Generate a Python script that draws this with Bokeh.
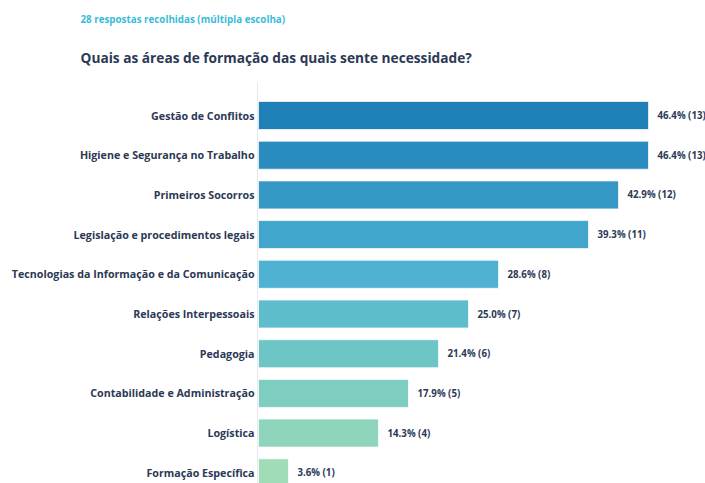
from bokeh.plotting import figure
from bokeh.models import Range1d, ColumnDataSource
from bokeh.embed import file_html
from bokeh.resources import INLINE
from bokeh.core.properties import value

categories = [
    "Gestão de Conflitos",
    "Higiene e Segurança no Trabalho",
    "Primeiros Socorros",
    "Legislação e procedimentos legais",
    "Tecnologias da Informação e da Comunicação",
    "Relações Interpessoais",
    "Pedagogia",
    "Contabilidade e Administração",
    "Logística",
    "Formação Específica",
]
counts = [13, 13, 12, 11, 8, 7, 6, 5, 4, 1]
percents = [46.4, 46.4, 42.9, 39.3, 28.6, 25.0, 21.4, 17.9, 14.3, 3.6]
colors = ["#1f7fb7", "#2a8bbf", "#3698c5", "#42a5cc", "#4fb2d3",
          "#5ebdcc", "#6ec5c6", "#7ecdc1", "#8fd5bc", "#a0dcb7"]

title_text = "Quais as áreas de formação das quais sente necessidade?"
subtitle_text = "28 respostas recolhidas (múltipla escolha)"

FONT = "Open Sans"
DARK = "#2b3956"

# layout constants (pixel geometry expressed in data units)
PX_X = 30.0          # pixels per response
PX_Y = 39.7          # pixels per row
X0, Y0 = 258, 115    # pixel of x=0 and of row 0
W, H = 705, 483

def dx(px):
    return (px - X0) / PX_X

def dy(px):
    return (px - Y0) / PX_Y

idx = list(range(len(categories)))
labels = [f"{p:.1f}% ({c})" for p, c in zip(percents, counts)]
src = ColumnDataSource(dict(y=idx, cnt=counts, color=colors, lab=labels, cat=categories))

p = figure(width=W, height=H, output_backend="svg", toolbar_location=None,
           x_range=Range1d(dx(0), dx(W)), y_range=Range1d(dy(H), dy(0)),
           x_axis_location=None, y_axis_location=None, min_border=0)
p.outline_line_color = None
p.background_fill_color = "white"
p.border_fill_color = "white"
p.xgrid.visible = False
p.ygrid.visible = False

# category axis line
p.segment(x0=[dx(257)], y0=[dy(82)], x1=[dx(257)], y1=[dy(H)],
          line_color="#e6e9ee", line_width=1)

p.hbar(y="y", left=0, right="cnt", height=0.705, fill_color="color",
       line_color="white", line_alpha=0.7, line_width=1, source=src)

# value labels
p.text(x="cnt", y="y", text="lab", x_offset=9, text_align="left",
       text_baseline="middle", text_font=value(FONT), text_font_style="bold",
       text_font_size="9.7px", text_color=DARK, source=src)

# category labels
p.text(x=0, y="y", text="cat", x_offset=-4, text_align="right",
       text_baseline="middle", text_font=value(FONT), text_font_style="bold",
       text_font_size="10.7px", text_color=DARK, source=src)

# subtitle and title
p.text(x=[dx(80)], y=[dy(18.5)], text=[subtitle_text], text_align="left",
       text_baseline="alphabetic", text_font=value(FONT), text_font_style="bold",
       text_font_size="9.8px", text_color="#3bbcd8")
p.text(x=[dx(80)], y=[dy(57)], text=[title_text], text_align="left",
       text_baseline="alphabetic", text_font=value(FONT), text_font_style="bold",
       text_font_size="13.7px", text_color=DARK)

open("out.html", "w").write(file_html(p, INLINE))
